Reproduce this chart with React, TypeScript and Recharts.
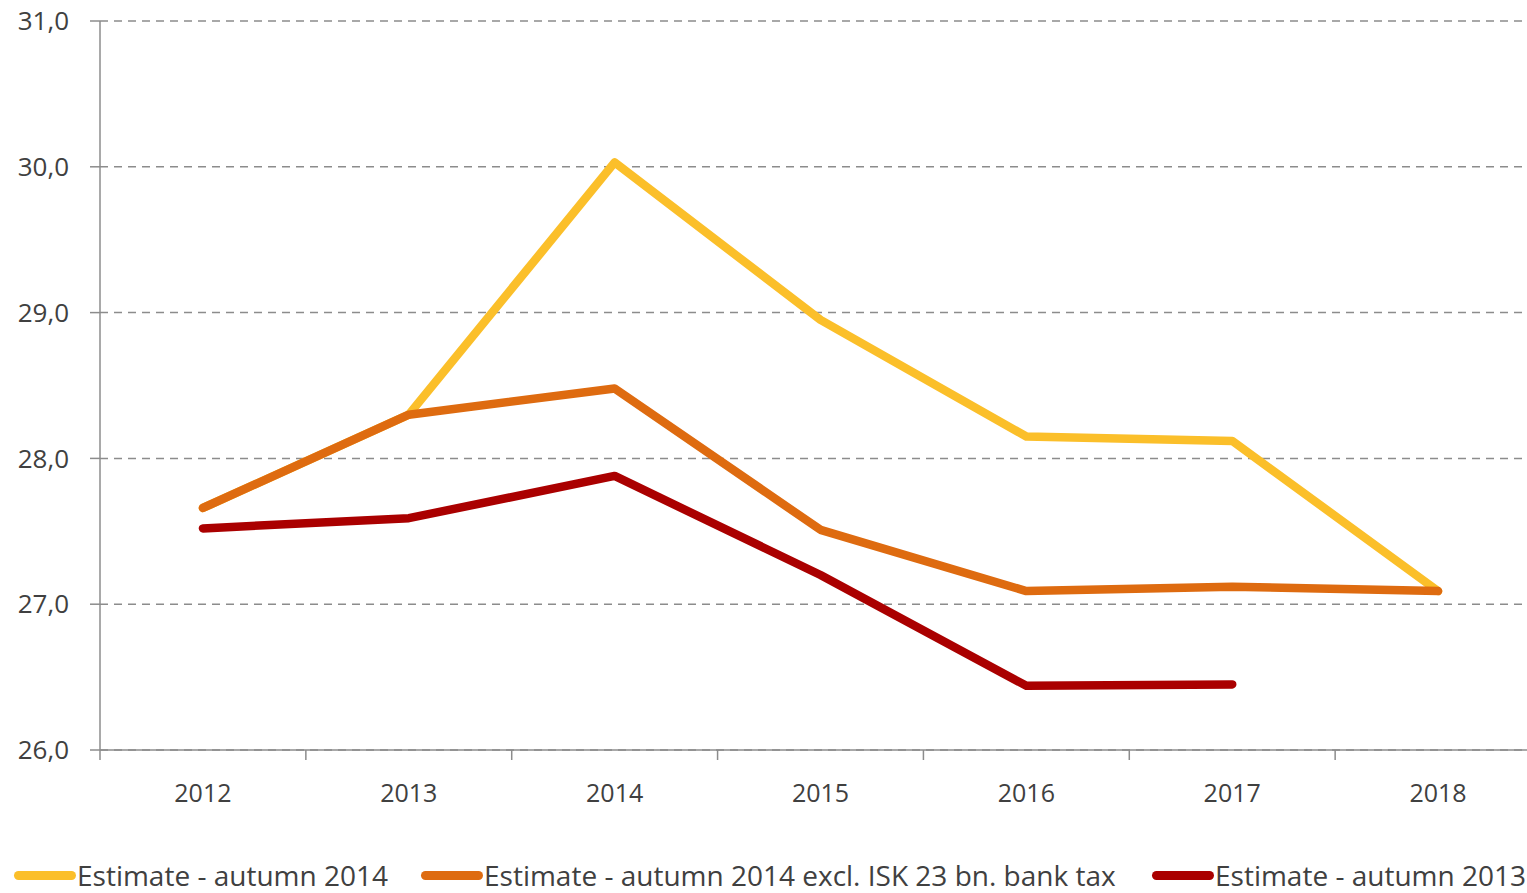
import { LineChart, Line, XAxis, YAxis, CartesianGrid } from 'recharts';

const years = [2012, 2013, 2014, 2015, 2016, 2017, 2018];
const autumn2014 = [27.66, 28.3, 30.03, 28.95, 28.15, 28.12, 27.09];
const autumn2014ExclTax = [27.66, 28.3, 28.48, 27.51, 27.09, 27.12, 27.09];
const autumn2013: (number | null)[] = [27.52, 27.59, 27.88, 27.2, 26.44, 26.45, null];
const yTicks = [26, 27, 28, 29, 30, 31];
const boundaryTicks = [2011.5, 2012.5, 2013.5, 2014.5, 2015.5, 2016.5, 2017.5, 2018.5];

const SERIES = [
  { key: 'a', name: 'Estimate - autumn 2014', color: '#FBBF2A', values: autumn2014 },
  { key: 'b', name: 'Estimate - autumn 2014 excl. ISK 23 bn. bank tax', color: '#DE6B10', values: autumn2014ExclTax },
  { key: 'c', name: 'Estimate - autumn 2013', color: '#AA0000', values: autumn2013 },
];

const LEGEND_X = [14, 421, 1152];

const FONT = '"Open Sans", sans-serif';
const AXIS = '#8c8c8c';
const TEXT = '#404040';

export default function App() {
  const data = years.map((year, i) => {
    const row: Record<string, number | null> = { year };
    for (const s of SERIES) row[s.key] = s.values[i];
    return row;
  });

  return (
    <div
      style={{
        position: 'absolute',
        left: 0,
        top: 0,
        width: 1527,
        height: 893,
        overflow: 'hidden',
        background: '#fff',
        fontFamily: FONT,
      }}
    >
      <LineChart width={1545} height={893} data={data} margin={{ top: 21, right: 4, bottom: 82, left: 0 }}>
        <CartesianGrid vertical={false} stroke={AXIS} strokeDasharray="8 6" strokeWidth={1.5} />
        {/* axis line + tick marks at category boundaries, no labels */}
        <XAxis
          dataKey="year"
          type="number"
          domain={[2011.5, 2018.5]}
          ticks={boundaryTicks}
          interval={0}
          tickFormatter={() => ''}
          tickSize={10}
          height={1}
          stroke={AXIS}
          strokeWidth={1.5}
          allowDataOverflow
        />
        {/* year labels */}
        <XAxis
          xAxisId="labels"
          dataKey="year"
          type="number"
          domain={[2011.5, 2018.5]}
          ticks={years}
          axisLine={false}
          tickLine={false}
          tickMargin={27}
          height={60}
          interval={0}
          tick={{ fontSize: 25, fill: TEXT, fontFamily: FONT }}
        />
        <YAxis
          width={100}
          domain={[26, 31]}
          ticks={yTicks}
          tickFormatter={(v: number) => v.toFixed(1).replace('.', ',')}
          tickSize={10}
          tickMargin={21}
          stroke={AXIS}
          strokeWidth={1.5}
          tick={{ fontSize: 26, fill: TEXT, fontFamily: FONT }}
        />
        {SERIES.map((s) => (
          <Line
            key={s.key}
            dataKey={s.key}
            name={s.name}
            stroke={s.color}
            strokeWidth={8.5}
            strokeLinecap="round"
            strokeLinejoin="round"
            dot={false}
            activeDot={false}
            isAnimationActive={false}
          />
        ))}
      </LineChart>
      {SERIES.map((s, i) => (
        <div
          key={s.key}
          style={{
            position: 'absolute',
            left: LEGEND_X[i],
            top: 856,
            height: 38,
            display: 'flex',
            alignItems: 'center',
            whiteSpace: 'nowrap',
          }}
        >
          <span
            style={{
              display: 'inline-block',
              width: 62,
              height: 9,
              borderRadius: 5,
              background: s.color,
              marginRight: 1,
            }}
          />
          <span style={{ fontSize: 28, color: TEXT }}>{s.name}</span>
        </div>
      ))}
    </div>
  );
}
